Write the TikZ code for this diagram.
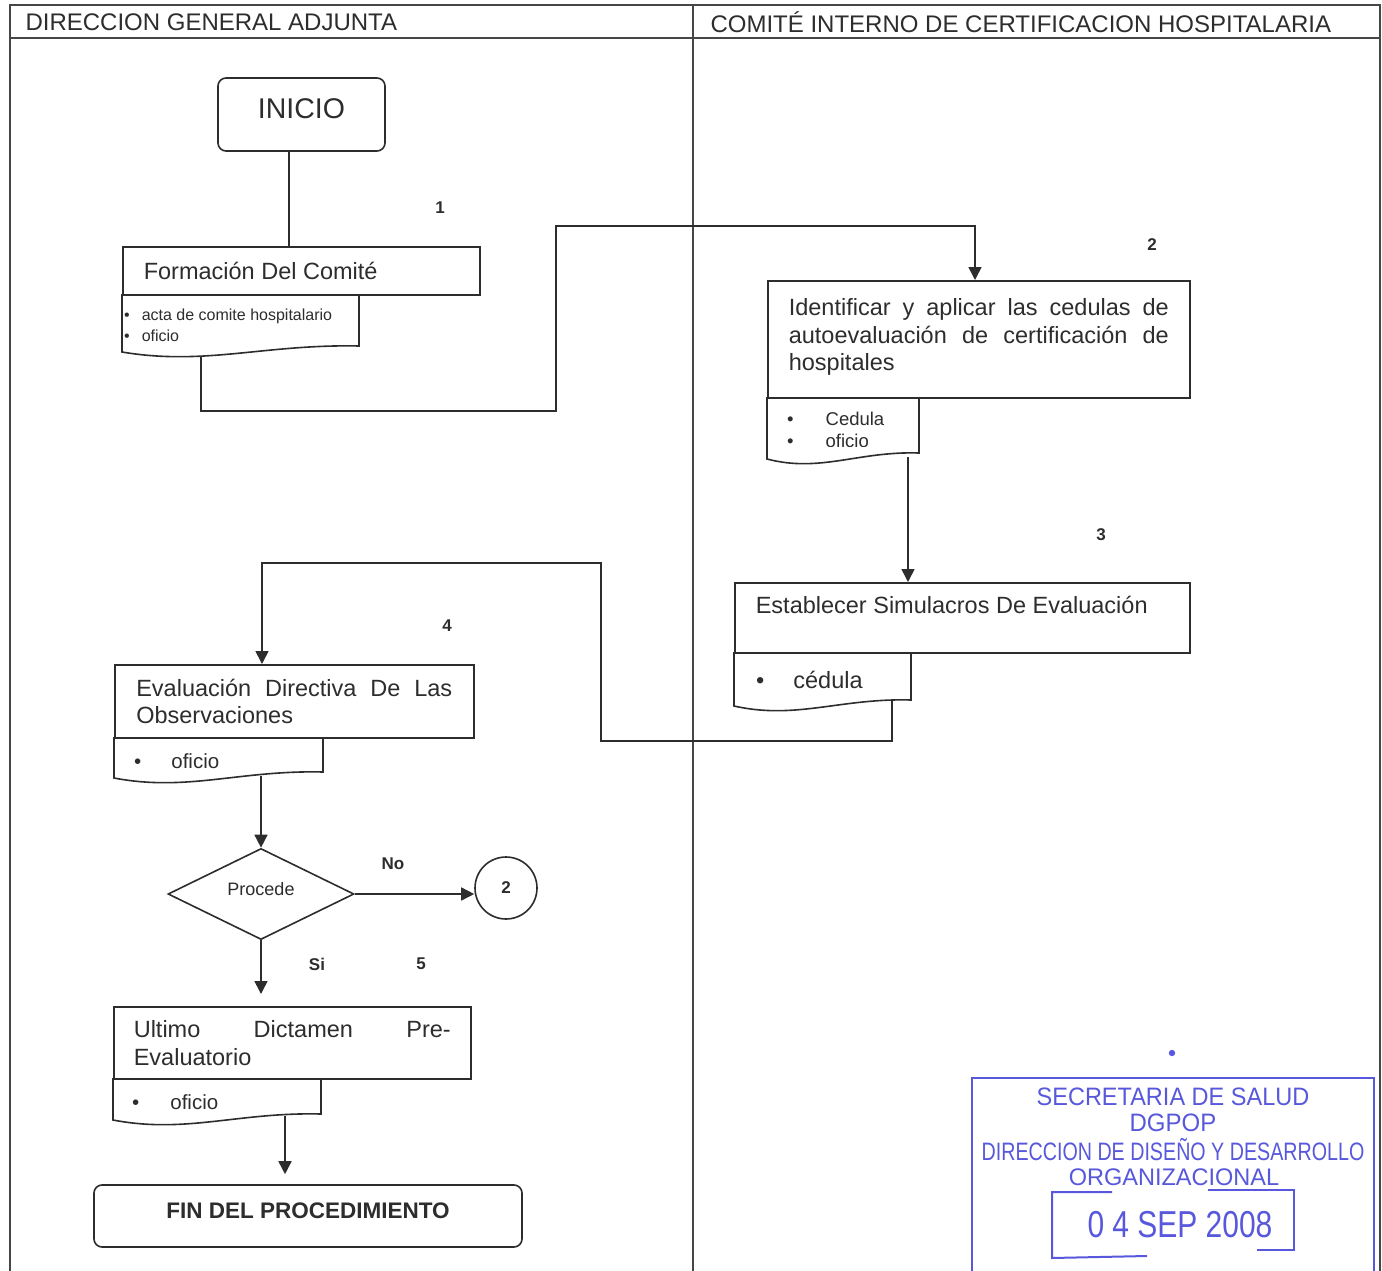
\documentclass[tikz,border=0pt]{standalone}
\usepackage{fontspec}
\setmainfont{Liberation Sans}
\usetikzlibrary{shapes.geometric,arrows.meta}

\definecolor{ink}{RGB}{45,45,45}
\definecolor{frame}{RGB}{70,70,70}
\definecolor{stampblue}{RGB}{88,88,220}

% document symbol: left x, top y, right x, bottom y (left end of the wave)
\newcommand{\docshape}[4]{%
  \draw[docline] (#1,#2) -- (#1,#4)
    .. controls ({#1+0.35*(#3-#1)},{#4+14}) and ({#1+0.6*(#3-#1)},{#4-8}) .. (#3,{#4-6})
    -- (#3,#2);}

\begin{document}
\begin{tikzpicture}[x=1pt,y=-1pt,
    lane/.style={draw=frame,line width=1.3pt},
    proc/.style={draw=ink,line width=1.6pt,anchor=north west,inner xsep=0pt,
      align=justify,text=ink,font=\fontsize{23.5}{27.6}\selectfont},
    term/.style={draw=ink,line width=1.6pt,rounded corners=8pt,text=ink},
    docline/.style={draw=ink,line width=1.6pt},
    doctxt/.style={anchor=west,align=left,inner sep=0pt,text=ink},
    conn/.style={draw=ink,line width=1.6pt},
    arr/.style={conn,-{Triangle[length=13pt,width=13pt]}},
    num/.style={text=ink,font=\fontsize{17}{20}\selectfont\bfseries},
    stamp/.style={text=stampblue,inner sep=0pt,font=\fontsize{24}{26}\selectfont}]

  \clip (0,0) rectangle (1382,1271);
  \fill[white] (0,0) rectangle (1382,1271);

  % swimlanes
  \draw[lane] (10,1280) -- (10,5) -- (1380,5) -- (1380,1280);
  \draw[lane] (10,38) -- (1380,38);
  \draw[lane] (693,5) -- (693,1280);
  \node[anchor=west,text=ink,font=\fontsize{24}{26}\selectfont] (laneA) at (22,22) {DIRECCION GENERAL ADJUNTA};
  \node[anchor=west,text=ink,font=\fontsize{24}{26}\selectfont] (laneB) at (707,22) {COMITÉ INTERNO DE CERTIFICACION HOSPITALARIA};

  % nodes
  \node[term,minimum width=167pt,minimum height=73pt,text depth=12pt,
    font=\fontsize{28.5}{30}\selectfont] (ini) at (301.5,114.5) {INICIO};
  \node[proc,minimum width=357pt,minimum height=48pt,text width=315pt] (form) at (122,246) {Formación Del Comité};
  \node[proc,minimum width=422pt,minimum height=117pt,text width=380pt] (iden) at (767,280)
    {Identificar y aplicar las cedulas de\linebreak autoevaluación de certificación de\linebreak hospitales\\[-18pt]\mbox{}};
  \node[proc,minimum width=455pt,minimum height=70pt,text width=413pt] (est) at (734,582)
    {Establecer Simulacros De Evaluación\\[-2pt]\mbox{}};
  \node[proc,minimum width=359pt,minimum height=73pt,text width=316pt] (eva) at (114,664)
    {Evaluación Directiva De Las\linebreak Observaciones};
  \node[draw=ink,line width=1.6pt,diamond,minimum width=186pt,minimum height=88pt,inner sep=0pt,
    text depth=11pt,text=ink,font=\fontsize{18}{20}\selectfont] (dia) at (261,894) {Procede};
  \node[draw=ink,line width=1.6pt,circle,minimum size=62pt,inner sep=0pt,
    text=ink,font=\fontsize{17}{20}\selectfont\bfseries] (circ) at (506,888) {2};
  \node[proc,minimum width=357pt,minimum height=72pt,text width=317pt] (ult) at (113,1006)
    {Ultimo Dictamen Pre-\linebreak Evaluatorio};
  \node[term,minimum width=428pt,minimum height=62pt,text depth=10pt,
    font=\fontsize{22.5}{26}\selectfont\bfseries] (fin) at (308,1216) {FIN DEL PROCEDIMIENTO};

  % documents
  \docshape{122}{294}{359}{352}
  \node[doctxt,font=\fontsize{16}{21}\selectfont] (doc1) at (124,325.5)
    {\textbullet\hspace{12pt}acta de comite hospitalario\\\textbullet\hspace{12pt}oficio};
  \docshape{767}{397}{919}{459}
  \begin{scope}
    \clip (767,397) rectangle (919,446);
    \node[doctxt,font=\fontsize{18.5}{22}\selectfont] (doc2) at (787,430)
      {\textbullet\hspace{32pt}Cedula\\\textbullet\hspace{32pt}oficio};
  \end{scope}
  \docshape{734}{652}{911}{706}
  \node[doctxt,font=\fontsize{23.5}{26}\selectfont] (doc3) at (756,680) {\textbullet\hspace{29pt}cédula};
  \docshape{114}{737}{323}{778}
  \node[doctxt,font=\fontsize{20.5}{24}\selectfont] (doc4) at (134,761) {\textbullet\hspace{30pt}oficio};
  \docshape{113}{1078}{321}{1120}
  \node[doctxt,font=\fontsize{20.5}{24}\selectfont] (doc5) at (132,1102) {\textbullet\hspace{31pt}oficio};

  \coordinate (d1b) at (201,356);
  \coordinate (d2b) at (908,457);
  \coordinate (d3b) at (892,701);
  \coordinate (d4b) at (261,776);
  \coordinate (d5b) at (285,1116);
  \coordinate (in2) at (975,280);
  \coordinate (in4) at (262,664);

  % step numbers and labels
  \node[num] (n1) at (440,208) {1};
  \node[num] (n2) at (1152,245) {2};
  \node[num] (n3) at (1101,535) {3};
  \node[num] (n4) at (447,626) {4};
  \node[num] (n5) at (421,964) {5};
  \node[num] (no) at (393,864) {No};
  \node[num] (si) at (317,964) {Si};

  % connectors
  \draw[conn] ([xshift=-12.5pt]ini.south) -- ([xshift=-12.5pt]ini.south |- form.north);
  \draw[arr] (d1b) |- (556,411) |- (975,226) -- (in2);
  \draw[arr] (d2b) -- (d2b |- est.north);
  \draw[arr] (d3b) |- (601,741) |- (262,563) -- (in4);
  \draw[arr] (d4b) -- (dia.north);
  \draw[arr] (dia.east) -- (dia.east -| circ.west);
  \draw[arr,shorten >=12pt] (dia.south) -- (dia.south |- ult.north);
  \draw[arr,shorten >=10pt] (d5b) -- (d5b |- fin.north);

  % stamp
  \fill[stampblue] (1172,1053) circle (3.2);
  \draw[stampblue,line width=2.5pt] (972,1290) -- (972,1078) -- (1374,1078) -- (1374,1290);
  \node[stamp] (st1) at (1173,1097) {\scalebox{0.98}[1.05]{SECRETARIA DE SALUD}};
  \node[stamp] (st2) at (1173,1123) {\scalebox{1}[1.05]{DGPOP}};
  \node[stamp] (st3) at (1173,1150) {\scalebox{0.82}[1.05]{DIRECCION DE DISEÑO Y DESARROLLO}};
  \node[stamp] (st4) at (1174,1177) {\scalebox{0.98}[1.0]{ORGANIZACIONAL}};
  \draw[stampblue,line width=2pt] (1112,1192) -- (1052,1192) -- (1052,1258) -- (1147,1256);
  \draw[stampblue,line width=2pt] (1208,1190) -- (1294,1190) -- (1294,1250) -- (1257,1250);
  \node[stamp,font=\fontsize{30}{32}\selectfont] (date) at (1180,1225)
    {\scalebox{1}[1.25]{0\hspace{8pt}4 SEP 2008}};
\end{tikzpicture}
\end{document}
